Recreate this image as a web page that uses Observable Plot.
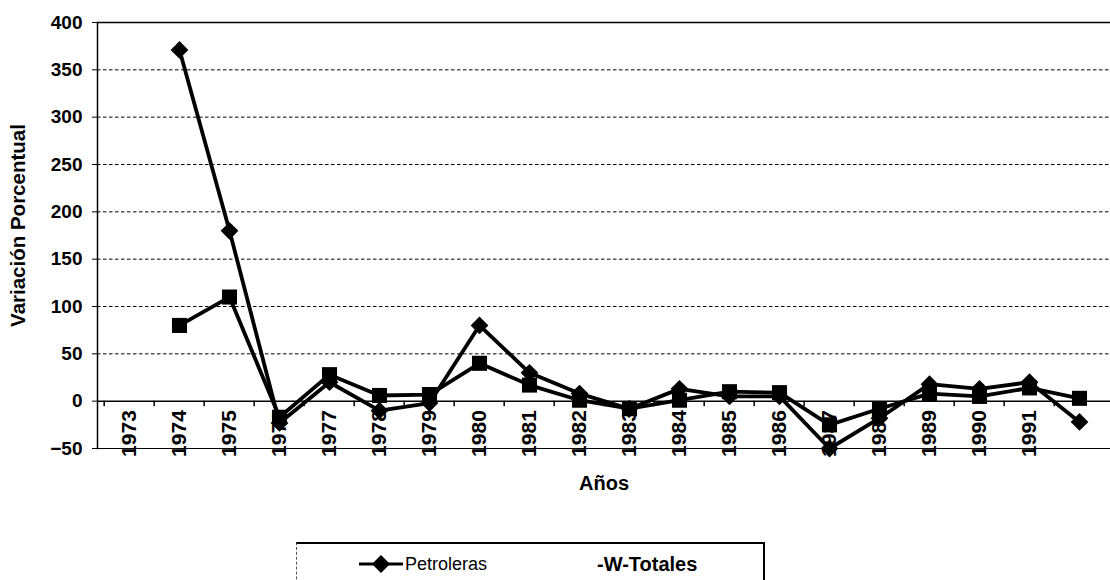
<!DOCTYPE html>
<html>
<head>
<meta charset="utf-8">
<script src="https://cdn.jsdelivr.net/npm/d3@7"></script>
<script src="https://cdn.jsdelivr.net/npm/@observablehq/plot@0.6"></script>
<style>
  html, body { margin: 0; padding: 0; background: #fff; }
  body { width: 1110px; height: 580px; position: relative; overflow: hidden; font-family: "Liberation Sans", Arial, sans-serif; }
  #chart { position: absolute; left: 0; top: 0; }
  #legend { position: absolute; left: 296px; top: 542px; width: 466px; height: 60px;
            border-top: 2px solid #000; border-right: 2px solid #000; border-left: 1px dashed #555; }
  .leg { position: absolute; top: 9px; display: flex; align-items: center; color: #000; }
</style>
</head>
<body>
<div id="chart"></div>
<div id="legend">
  <div class="leg" style="left:60px;">
    <svg width="48" height="22"><line x1="2" y1="11" x2="46" y2="11" stroke="#000" stroke-width="3"/><polygon points="24,2 33,11 24,20 15,11" fill="#000"/></svg>
    <span style="font-size:18px;">Petroleras</span>
  </div>
  <div class="leg" style="left:300px;">
    <span style="font-size:20px;font-weight:bold;">-W-Totales</span>
  </div>
</div>
<script>
const years = ["1973","1974","1975","1976","1977","1978","1979","1980","1981","1982","1983","1984","1985","1986","1987","1988","1989","1990","1991","1992"];
const petroleras = [null, 371, 180, -23, 20, -10, -2, 80, 30, 8, -8, 13, 5, 5, -50, -18, 18, 13, 20, -22];
const totales    = [null, 80, 110, -17, 28, 6, 7, 40, 17, 1, -8, 1, 10, 9, -25, -8, 8, 5, 14, 3];
const yTicks = [-50, 0, 50, 100, 150, 200, 250, 300, 350, 400];
const gridTicks = [50, 100, 150, 200, 250, 300, 350];
const xLabels = years.slice(0, 19);
const yTitle = "Variación Porcentual";
const xTitle = "Años";

const rowsP = years.map((y, i) => ({year: y, value: petroleras[i], series: "Petroleras"})).filter(d => d.value != null);
const rowsT = years.map((y, i) => ({year: y, value: totales[i], series: "Totales"})).filter(d => d.value != null);

const W = 1110, H = 510, ML = 97, MR = 0, MT = 22, MB = 62;
const bw = (W - ML - MR) / years.length;
const font = "'Liberation Sans', Arial, sans-serif";

const chart = Plot.plot({
  width: W, height: H,
  marginLeft: ML, marginRight: MR, marginTop: MT, marginBottom: MB,
  style: {fontFamily: font, color: "#000", background: "#fff", overflow: "visible"},
  x: {type: "point", domain: years, padding: 0.5, axis: null},
  y: {domain: [-50, 400], axis: null},
  marks: [
    Plot.ruleY(gridTicks, {stroke: "#000", strokeWidth: 1, strokeDasharray: "3.5,2.5"}),
    Plot.ruleY([400], {stroke: "#000", strokeWidth: 1.5}),
    Plot.ruleY([0], {stroke: "#000", strokeWidth: 1.5}),
    Plot.ruleY([-50], {stroke: "#000", strokeWidth: 1.2}),
    Plot.frame({anchor: "left", stroke: "#000", strokeWidth: 1.5}),
    Plot.axisY(yTicks, {tickSize: 5, tickPadding: 10, fontSize: 19, fontWeight: "bold", label: null, stroke: "#000", fill: "#000"}),
    Plot.ruleX(years, {x: d => d, y1: 0, y2: -6, dx: -bw / 2, stroke: "#000", strokeWidth: 1.5}),
    Plot.text(xLabels, {x: d => d, y: 0, rotate: -90, textAnchor: "end", dy: 9, fontSize: 21, fontWeight: "bold", fill: "#000"}),
    Plot.text([yTitle], {frameAnchor: "left", textAnchor: "middle", rotate: -90, dx: -79, dy: -10, fontSize: 20.5, fontWeight: "bold", fill: "#000"}),
    Plot.text([xTitle], {frameAnchor: "bottom", dy: 41, fontSize: 20, fontWeight: "bold", fill: "#000"}),
    Plot.line(rowsT, {x: "year", y: "value", stroke: "#000", strokeWidth: 3.8}),
    Plot.dot(rowsT, {x: "year", y: "value", symbol: "square", r: 8.5, fill: "#000"}),
    Plot.line(rowsP, {x: "year", y: "value", stroke: "#000", strokeWidth: 3.8}),
    Plot.dot(rowsP, {x: "year", y: "value", symbol: "diamond2", r: 8, fill: "#000"})
  ]
});
document.getElementById("chart").appendChild(chart);
</script>
</body>
</html>
